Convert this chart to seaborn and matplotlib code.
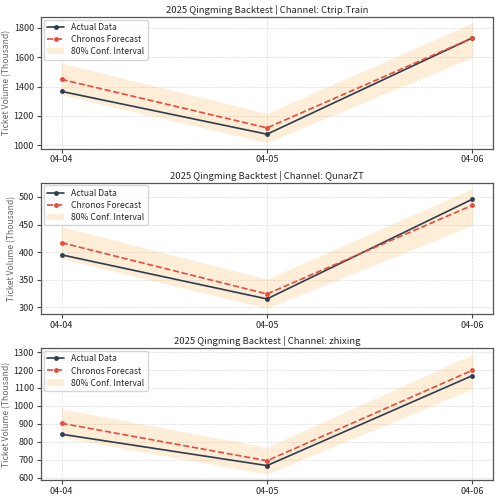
import matplotlib.pyplot as plt
import matplotlib.dates as mdates
from matplotlib.ticker import MultipleLocator
import pandas as pd
import seaborn as sns

dates = ['2025-04-04', '2025-04-05', '2025-04-06']
channels = ['Ctrip.Train', 'QunarZT', 'zhixing']
tick_steps = [200, 50, 100]

actual = {
    'Ctrip.Train': [1367, 1075, 1732],
    'QunarZT': [395, 315, 496],
    'zhixing': [842, 667, 1169],
}
forecast = {
    'Ctrip.Train': [1449, 1118, 1732],
    'QunarZT': [417, 324, 485],
    'zhixing': [903, 694, 1199],
}
lower = {
    'Ctrip.Train': [1344, 1018, 1600],
    'QunarZT': [388, 298, 449],
    'zhixing': [825, 620, 1095],
}
upper = {
    'Ctrip.Train': [1559, 1217, 1834],
    'QunarZT': [446, 351, 515],
    'zhixing': [983, 769, 1287],
}

sns.set_style('whitegrid')
plt.rcParams['font.family'] = ['Noto Sans CJK SC', 'DejaVu Sans']

fig, axes = plt.subplots(3, 1, figsize=(5, 5), dpi=100)
fig.subplots_adjust(left=0.082, right=0.986, top=0.966, bottom=0.04, hspace=0.26)

for ax, ch, step in zip(axes, channels, tick_steps):
    df = pd.DataFrame({
        'date': pd.to_datetime(dates),
        'actual': actual[ch],
        'forecast': forecast[ch],
        'lower': lower[ch],
        'upper': upper[ch],
    })
    sns.lineplot(data=df, x='date', y='actual', ax=ax, color='#2c3e50',
                 marker='o', markersize=3.5, markeredgewidth=0, linewidth=1.2,
                 label='Actual Data')
    sns.lineplot(data=df, x='date', y='forecast', ax=ax, color='#e74c3c',
                 marker='o', markersize=3.5, markeredgewidth=0, linewidth=1.2,
                 linestyle='--', label='Chronos Forecast')
    ax.fill_between(df['date'], df['lower'], df['upper'], color='#fdb863',
                    alpha=0.25, linewidth=0, label='80% Conf. Interval')

    ax.set_title(f'2025 Qingming Backtest | Channel: {ch}', fontsize=6.8, pad=3)
    ax.set_xlabel('')
    ax.set_ylabel('Ticket Volume (Thousand)', fontsize=6.2, color='#666666',
                  labelpad=2)
    ax.set_xticks(df['date'])
    ax.xaxis.set_major_formatter(mdates.DateFormatter('%m-%d'))
    ax.yaxis.set_major_locator(MultipleLocator(step))
    ax.tick_params(axis='both', labelsize=6.5, length=3, color='#444444',
                   left=True, bottom=True, pad=2)
    ax.grid(True, linestyle='--', linewidth=0.5, color='#dddddd')
    for s in ax.spines.values():
        s.set_color('#555555')
        s.set_linewidth(0.9)
    ax.legend(loc='upper left', fontsize=6.2, frameon=True, edgecolor='#cccccc',
              handlelength=2.0, borderpad=0.4, labelspacing=0.35,
              borderaxespad=0.3)

fig.savefig('out.png')
